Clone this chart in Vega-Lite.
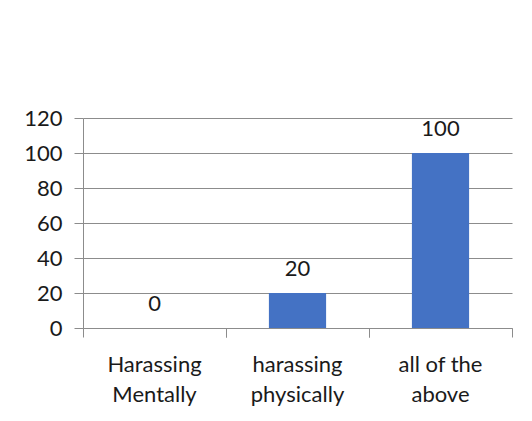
{
  "$schema": "https://vega.github.io/schema/vega-lite/v6.json",
  "width": 429,
  "height": 210,
  "autosize": {"type": "none"},
  "padding": {"left": 83, "top": 118, "right": 20, "bottom": 93},
  "background": "white",
  "config": {
    "view": {"stroke": null},
    "font": "Lato",
    "axis": {
      "labelFont": "Lato",
      "labelFontSize": 22,
      "labelColor": "#1a1a1a",
      "domainColor": "#8c8c8c",
      "tickColor": "#8c8c8c",
      "gridColor": "#8c8c8c",
      "gridWidth": 1,
      "domainWidth": 1,
      "tickWidth": 1,
      "title": null
    }
  },
  "data": {
    "values": [
      {"category": "Harassing Mentally", "value": 0},
      {"category": "harassing physically", "value": 20},
      {"category": "all of the above", "value": 100}
    ]
  },
  "resolve": {"axis": {"x": "independent"}},
  "layer": [
    {
      "mark": {"type": "bar", "color": "#4472C4"},
      "encoding": {
        "x": {
          "field": "category",
          "type": "nominal",
          "sort": null,
          "scale": {"paddingInner": 0.6, "paddingOuter": 0.3},
          "axis": {
            "orient": "bottom",
            "labelAngle": 0,
            "labelExpr": "datum.value == 'all of the above' ? ['all of the', 'above'] : split(datum.value, ' ')",
            "labelLineHeight": 30,
            "labelBaseline": "alphabetic",
            "labelPadding": 34,
            "tickSize": 9,
            "bandPosition": -0.75,
            "grid": false
          }
        },
        "y": {
          "field": "value",
          "type": "quantitative",
          "scale": {"domain": [0, 120], "nice": false},
          "axis": {
            "values": [0, 20, 40, 60, 80, 100, 120],
            "tickSize": 9,
            "labelPadding": 12,
            "grid": true
          }
        }
      }
    },
    {
      "mark": {"type": "text", "baseline": "alphabetic", "dy": -17, "fontSize": 22, "font": "Lato", "color": "#1a1a1a"},
      "encoding": {
        "x": {
          "field": "category",
          "type": "nominal",
          "sort": null,
          "axis": {
            "orient": "bottom",
            "labels": false,
            "domain": false,
            "tickSize": 9,
            "bandPosition": 1.75,
            "grid": false
          }
        },
        "y": {
          "field": "value",
          "type": "quantitative",
          "axis": {
            "values": [0, 20, 40, 60, 80, 100, 120],
            "tickSize": 9,
            "labelPadding": 12,
            "grid": true
          }
        },
        "text": {"field": "value", "type": "quantitative"}
      }
    }
  ]
}
